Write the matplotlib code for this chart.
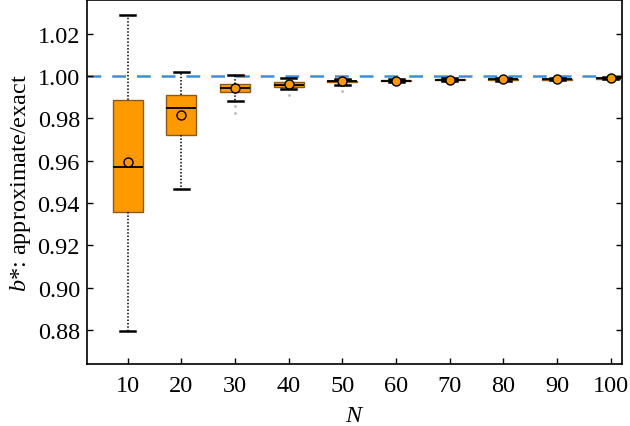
import matplotlib
matplotlib.use("Agg")
import matplotlib.pyplot as plt

plt.rcParams['font.family'] = ['Liberation Serif', 'DejaVu Serif']
plt.rcParams['mathtext.fontset'] = 'custom'
plt.rcParams['mathtext.it'] = 'Liberation Serif:italic'
plt.rcParams['mathtext.rm'] = 'Liberation Serif'

N = [10, 20, 30, 40, 50, 60, 70, 80, 90, 100]
whislo = [0.8795, 0.9465, 0.9884, 0.9937, 0.9957, 0.9970, 0.9976, 0.9978, 0.9980, 0.9984]
q1     = [0.9356, 0.9724, 0.9925, 0.9947, 0.9970, 0.9976, 0.9980, 0.9981, 0.9983, 0.9987]
median = [0.9573, 0.9851, 0.9942, 0.9960, 0.9975, 0.9979, 0.9983, 0.9984, 0.9985, 0.9990]
q3     = [0.9889, 0.9912, 0.9963, 0.9972, 0.9979, 0.9982, 0.9986, 0.9987, 0.9988, 0.9992]
whishi = [1.0290, 1.0021, 1.0003, 0.9993, 0.9986, 0.9987, 0.9990, 0.9991, 0.9991, 0.9995]
means  = [0.9592, 0.9818, 0.9943, 0.9962, 0.9975, 0.9979, 0.9983, 0.9984, 0.9985, 0.9990]
fliers = [[], [], [0.9859, 0.9828], [0.9912], [0.9931], [], [], [], [], []]

stats = []
for i in range(len(N)):
    stats.append(dict(whislo=whislo[i], q1=q1[i], med=median[i], q3=q3[i],
                      whishi=whishi[i], mean=means[i], fliers=fliers[i]))

fig = plt.figure(figsize=(6.3, 4.27), dpi=100)
ax = fig.add_axes([0.138, 0.145, 0.849, 0.853])

ax.axhline(1.0, color='#3d8fdd', lw=1.8, dashes=(5.5, 4.4), zorder=1)

ax.bxp(stats, positions=N, widths=5.6, showmeans=True, patch_artist=True,
       boxprops=dict(facecolor='#ff9900', edgecolor='#8a5a1a', linewidth=1),
       medianprops=dict(color='black', linewidth=1.3),
       whiskerprops=dict(color='black', linestyle=(0, (1, 1.2)), linewidth=1.1),
       capprops=dict(color='black', linewidth=1.8),
       meanprops=dict(marker='o', markerfacecolor='#ff9900', markeredgecolor='black',
                      markersize=6.5, markeredgewidth=1),
       flierprops=dict(marker='o', markersize=1.0, markerfacecolor='#bbbbbb',
                       markeredgecolor='#bbbbbb'),
       zorder=3)

ax.set_xlim(2.4, 102.05)
ax.set_ylim(0.864, 1.036)
ax.set_xticks(N)
ax.set_xticklabels([str(n) for n in N])
ax.set_yticks([0.88, 0.90, 0.92, 0.94, 0.96, 0.98, 1.00, 1.02])
ax.set_yticklabels(['0.88', '0.90', '0.92', '0.94', '0.96', '0.98', '1.00', '1.02'])
ax.tick_params(direction='in', labelsize=17.5, length=4.5, width=1, pad=5,
               left=True, right=True, top=False, bottom=True)
ax.tick_params(axis='x', pad=7.5)
ax.set_xlabel('$N$', fontsize=17.5, labelpad=7)
ax.set_ylabel('$b$*: approximate/exact', fontsize=17.5, labelpad=3)
for s in ax.spines.values():
    s.set_linewidth(1.2)

fig.savefig('out.png', dpi=100)
